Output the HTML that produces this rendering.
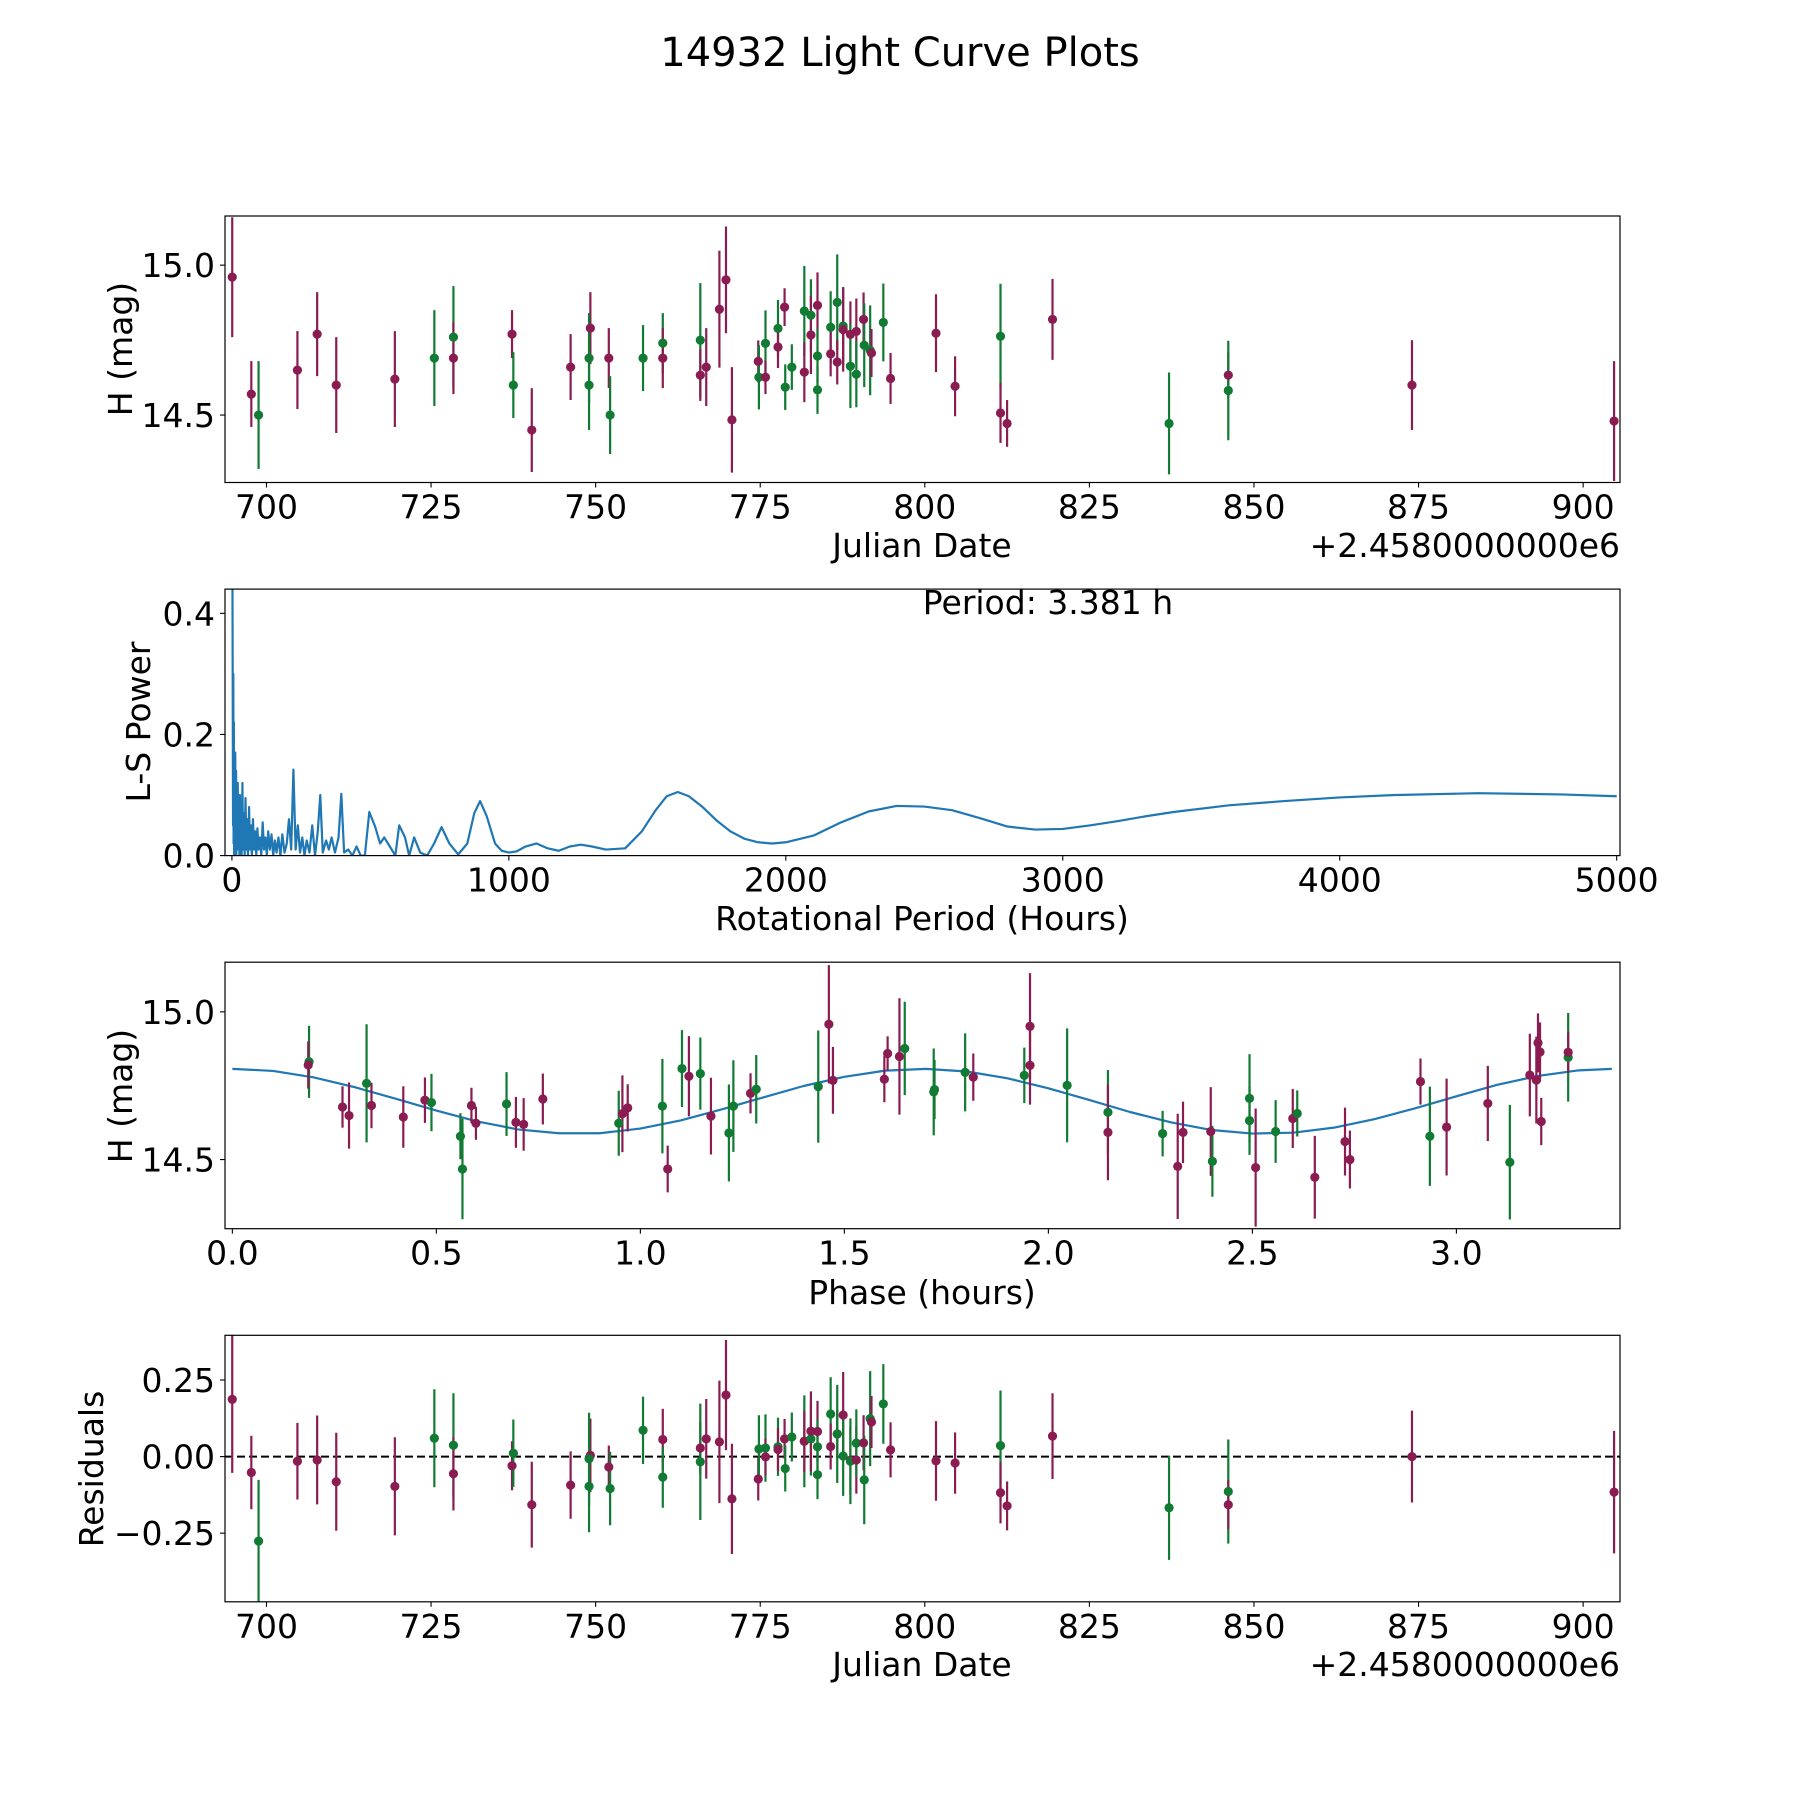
<!DOCTYPE html>
<html><head><meta charset="utf-8"><style>
html,body{margin:0;padding:0;background:#fff;}
svg{display:block;font-family:"DejaVu Sans","Liberation Sans",sans-serif;}
</style></head><body>
<svg id="fig" width="1800" height="1800" viewBox="0 0 1800 1800" xmlns="http://www.w3.org/2000/svg">
<rect x="0" y="0" width="1800" height="1800" fill="#fff"/>
<text x="900" y="66" font-size="40" text-anchor="middle">14932 Light Curve Plots</text>
</svg>
<script>
// ---------- Light curve (panel 1) ----------
const lcDates=[694.8,697.7,698.8,704.7,707.7,710.6,719.5,725.5,728.4,728.4,737.3,737.5,740.3,746.2,749.2,749.0,749.0,752.0,752.2,757.2,760.2,760.2,
765.9,765.9,766.8,768.8,769.8,770.7,774.7,774.8,775.8,775.8,777.7,777.7,778.7,778.8,779.8,781.7,781.7,782.7,782.7,783.7,783.7,783.7,785.7,785.7,786.7,786.7,787.6,787.6,788.7,788.7,789.6,789.6,790.7,790.8,791.7,791.9,793.7,794.8,801.7,804.6,811.5,811.5,812.5,819.4,837.1,846.1,846.1,874.0,904.7];
const lcMags=[14.96,14.57,14.50,14.65,14.77,14.60,14.62,14.69,14.76,14.69,14.77,14.60,14.45,14.66,14.79,14.69,14.60,14.69,14.50,14.69,14.74,14.69,
14.750,14.633,14.660,14.853,14.951,14.484,14.679,14.626,14.739,14.626,14.789,14.727,14.860,14.593,14.660,14.847,14.643,14.833,14.767,14.866,14.697,14.584,14.793,14.704,14.876,14.677,14.797,14.785,14.769,14.663,14.779,14.636,14.819,14.733,14.716,14.707,14.809,14.622,14.773,14.596,14.763,14.507,14.472,14.819,14.472,14.633,14.582,14.60,14.48];
const lcErrs=[0.20,0.11,0.18,0.13,0.14,0.16,0.16,0.16,0.17,0.12,0.08,0.11,0.14,0.11,0.12,0.15,0.15,0.10,0.13,0.11,0.10,0.10,
0.19,0.086,0.13,0.195,0.178,0.176,0.07,0.107,0.11,0.056,0.095,0.07,0.063,0.076,0.076,0.15,0.10,0.12,0.13,0.11,0.09,0.08,0.12,0.075,0.16,0.075,0.13,0.14,0.11,0.14,0.11,0.11,0.09,0.14,0.15,0.08,0.13,0.085,0.13,0.10,0.175,0.10,0.078,0.135,0.17,0.075,0.166,0.15,0.20];
const lcBands=['m','m','g','m','m','m','m','g','g','m','m','g','m','m','m','g','g','m','g','g','g','m',
'g','m','m','m','m','m','m','g','g','m','g','m','m','g','g','g','m','g','m','m','g','g','g','m','g','m','g','m','m','g','m','g','m','g','g','m','g','m','m','m','g','m','m','m','g','m','g','m','m'];

// ---------- Periodogram (panel 2) ----------
const lsPeriods=[2,4,5,6,7,8,9,10,12,13,15,16,18,19,21,23,25,27,29,31,33,35,38,40,43,46,49,52,55,58,62,65,69,72,76,80,84,88,92,96,101,106,111,116,121,126,131,137,143,149,155,161,168,175,182,190,198,206,214,222,230,238,246,254,262,270,280,290,300,310,319,328,340,350,360,372,385,395,405,420,435,450,465,480,496,517,535,550,570,590,604,625,640,658,680,705,730,757,785,817,850,875,896,920,950,974,1000,1028,1060,1100,1140,1180,1220,1260,1300,1350,1420,1480,1530,1570,1610,1650,1700,1750,1800,1850,1900,1950,2000,2100,2200,2300,2400,2500,2600,2700,2800,2900,3000,3100,3200,3300,3400,3600,3800,4000,4200,4500,4800,5000];
const lsPower=[0.44,0.05,0.30,0.02,0.22,0.0,0.17,0.01,0.17,0.02,0.14,0.0,0.11,0.01,0.12,0.01,0.09,0.0,0.10,0.02,0.08,0.0,0.12,0.01,0.07,0.0,0.095,0.01,0.06,0.0,0.08,0.01,0.05,0.0,0.06,0.01,0.04,0.0,0.045,0.01,0.03,0.0,0.055,0.01,0.03,0.0,0.04,0.01,0.035,0.0,0.025,0.005,0.03,0.0,0.035,0.005,0.02,0.06,0.01,0.142,0.01,0.05,0.005,0.03,0.0,0.025,0.005,0.05,0.0,0.04,0.10,0.005,0.025,0.01,0.03,0.005,0.03,0.102,0.005,0.01,0.0,0.015,0.0,0.0,0.072,0.048,0.02,0.03,0.015,0.0,0.05,0.03,0.0,0.03,0.005,0.0,0.02,0.047,0.02,0.002,0.02,0.07,0.09,0.065,0.02,0.008,0.005,0.007,0.015,0.02,0.012,0.008,0.015,0.018,0.015,0.01,0.012,0.04,0.075,0.098,0.105,0.098,0.08,0.058,0.04,0.028,0.022,0.02,0.022,0.033,0.055,0.073,0.082,0.081,0.075,0.062,0.048,0.043,0.044,0.05,0.057,0.065,0.072,0.083,0.09,0.096,0.10,0.103,0.101,0.098];
const lsTickLabels=['0','1000','2000','3000','4000','5000'];
const lsTickValues=[0,1000,2000,3000,4000,5000];
const lsBestPeriodLabel=['Period: 3.381 h'];

// ---------- Phased curve (panel 3) ----------
const phPhases=[0.188,0.186,0.27,0.286,0.329,0.341,0.419,0.472,0.488,0.559,0.564,0.586,0.597,0.672,0.695,0.714,0.761,0.947,0.956,0.969,1.054,1.067,1.102,1.119,1.147,1.173,1.217,1.228,1.27,1.284,1.436,1.462,1.472,1.598,1.606,1.635,1.648,
1.719,1.721,1.796,1.816,1.941,1.955,1.955,2.046,2.146,2.146,2.28,2.317,2.33,2.398,2.402,2.493,2.493,2.508,2.557,2.599,2.61,2.653,2.727,2.739,2.912,2.935,2.976,3.077,3.131,3.18,3.196,3.2,3.205,3.208,3.274,3.274];
const phMags=[14.831,14.82,14.678,14.649,14.758,14.683,14.644,14.701,14.693,14.579,14.468,14.683,14.623,14.688,14.626,14.619,14.705,14.623,14.655,14.675,14.681,14.468,14.808,14.782,14.791,14.647,14.59,14.681,14.724,14.738,14.747,14.958,14.768,14.772,14.859,14.849,14.876,
14.729,14.737,14.795,14.779,14.785,14.951,14.819,14.751,14.66,14.592,14.588,14.477,14.592,14.595,14.494,14.707,14.632,14.473,14.595,14.639,14.656,14.44,14.561,14.5,14.764,14.579,14.61,14.69,14.491,14.786,14.769,14.895,14.864,14.629,14.846,14.863];
const phErrs=[0.122,0.08,0.07,0.112,0.2,0.077,0.104,0.077,0.097,0.078,0.17,0.06,0.056,0.108,0.086,0.089,0.086,0.11,0.13,0.08,0.16,0.079,0.13,0.136,0.122,0.13,0.164,0.155,0.068,0.116,0.19,0.2,0.113,0.078,0.058,0.197,0.158,
0.147,0.1,0.132,0.08,0.094,0.18,0.133,0.193,0.143,0.162,0.077,0.178,0.104,0.15,0.12,0.15,0.116,0.2,0.106,0.1,0.078,0.14,0.115,0.098,0.078,0.168,0.164,0.127,0.194,0.14,0.147,0.1,0.1,0.08,0.15,0.07];
const phBands=['g','m','m','m','g','m','m','m','g','g','g','m','m','g','m','m','m','g','m','m','g','m','g','m','g','m','g','g','m','g','g','m','m','m','m','m','g',
'g','g','g','m','g','m','m','g','g','m','g','m','m','m','g','g','g','m','g','m','g','m','m','m','m','g','m','m','g','m','m','m','m','m','g','m'];
const fitPhases=[0,0.1,0.2,0.3,0.4,0.5,0.6,0.7,0.8,0.9,1.0,1.1,1.2,1.3,1.4,1.5,1.6,1.7,1.8,1.9,2.0,2.1,2.2,2.3,2.4,2.5,2.6,2.7,2.8,2.9,3.0,3.1,3.2,3.3,3.381];
const fitMags=[14.807,14.800,14.778,14.745,14.706,14.666,14.629,14.602,14.589,14.589,14.605,14.633,14.670,14.710,14.749,14.780,14.801,14.807,14.798,14.775,14.741,14.702,14.661,14.626,14.600,14.588,14.591,14.608,14.637,14.674,14.714,14.753,14.783,14.802,14.807];

// ---------- Residuals (panel 4) ----------
const resDates=[694.8,697.7,698.8,704.7,707.7,710.6,719.5,725.5,728.4,728.4,737.3,737.5,740.3,746.2,749.2,749.0,749.0,752.0,752.2,757.2,760.2,760.2,874.0,904.7,
765.9,765.9,766.8,768.8,769.8,770.7,774.7,774.8,775.8,775.8,777.7,777.7,778.7,778.8,779.8,781.7,781.7,782.7,782.7,783.7,783.7,783.7,785.7,785.7,786.7,786.7,787.6,787.6,788.7,788.7,789.6,789.6,790.7,790.8,791.7,791.9,793.7,794.8,801.7,804.6,811.5,811.5,812.5,819.4,837.1,846.1,846.1];
const resValues=[0.187,-0.052,-0.276,-0.015,-0.011,-0.082,-0.097,0.06,0.037,-0.056,-0.03,0.011,-0.157,-0.093,0.004,-0.007,-0.097,-0.034,-0.104,0.086,0.056,-0.067,0.0,-0.116,
0.028,-0.017,0.058,0.048,0.201,-0.138,-0.073,0.025,0.028,-0.001,0.032,0.023,0.058,-0.039,0.064,0.05,0.05,0.058,0.083,0.082,0.032,-0.059,0.139,0.033,0.074,0.074,0.136,0.002,-0.012,-0.015,-0.011,0.044,0.045,-0.076,0.124,0.113,0.172,0.022,-0.014,-0.021,0.036,-0.118,-0.161,0.067,-0.167,-0.114,-0.157];
const resErrs=[0.24,0.12,0.2,0.125,0.145,0.16,0.16,0.16,0.17,0.12,0.08,0.11,0.14,0.11,0.12,0.15,0.15,0.07,0.12,0.11,0.1,0.1,0.15,0.2,
0.085,0.19,0.13,0.2,0.18,0.18,0.07,0.11,0.11,0.06,0.095,0.07,0.065,0.075,0.08,0.15,0.1,0.12,0.13,0.1,0.09,0.08,0.12,0.075,0.08,0.16,0.14,0.13,0.11,0.14,0.11,0.11,0.09,0.145,0.155,0.085,0.13,0.09,0.13,0.1,0.18,0.1,0.08,0.14,0.17,0.17,0.08];
const resBands=['m','m','g','m','m','m','m','g','g','m','m','g','m','m','m','g','g','m','g','g','m','g','m','m',
'm','g','m','m','m','m','m','g','g','m','g','m','m','g','g','g','m','g','m','m','g','g','g','m','m','g','m','g','m','g','m','g','m','g','g','m','g','m','m','m','g','m','m','m','g','g','m'];

const dateTickValues=[700,725,750,775,800,825,850,875,900];
const dateTickLabels=['700','725','750','775','800','825','850','875','900'];
const magTickValues=[14.5,15.0];
const magTickLabels=['14.5','15.0'];
const powTickValues=[0,0.2,0.4];
const powTickLabels=['0.0','0.2','0.4'];
const phaseTickValues=[0,0.5,1,1.5,2,2.5,3];
const phaseTickLabels=['0.0','0.5','1.0','1.5','2.0','2.5','3.0'];
const resTickValues=[0.25,0,-0.25];
const resTickLabels=['0.25','0.00','\u22120.25'];

const COL={m:'#8b1c52',g:'#117a33'};
const FS=33;
const NS='http://www.w3.org/2000/svg';
const svg=document.getElementById('fig');
function mk(tag,attrs,parent,text){const e=document.createElementNS(NS,tag);for(const k in attrs)e.setAttribute(k,attrs[k]);if(text!==undefined)e.textContent=text;(parent||svg).appendChild(e);return e;}
function axis(x0,x1,y0,y1,xmin,xmax,ymin,ymax){return{x0,x1,y0,y1,sx:v=>x0+(v-xmin)/(xmax-xmin)*(x1-x0),sy:v=>y1-(v-ymin)/(ymax-ymin)*(y1-y0)};}
const A1=axis(225,1620,216,482.5,693.7,905.6,14.275,15.164);
const A2=axis(225,1620,589.1,855.6,-25,5012,0,0.44);
const A3=axis(225,1620,962.2,1228.7,-0.018,3.401,14.266,15.168);
const A4=axis(225,1620,1335.3,1601.8,693.7,905.6,-0.474,0.396);

function frame(A,name){
  const g=mk('g',{});
  
  
  const clipId='clip-'+name;
  const cp=mk('clipPath',{id:clipId},g);
  mk('rect',{x:A.x0,y:A.y0,width:A.x1-A.x0,height:A.y1-A.y0},cp);
  const plot=mk('g',{'clip-path':'url(#'+clipId+')'},g);
  
  
  return {g,plot};
}
function border(A,g){
  const r=mk('rect',{x:A.x0,y:A.y0,width:A.x1-A.x0,height:A.y1-A.y0,fill:'none',stroke:'#000','stroke-width':1.2},g);
  
  
}
function xticks(A,g,vals,labels){
  vals.forEach((v,i)=>{const x=A.sx(v);
    const t=mk('line',{x1:x,x2:x,y1:A.y1,y2:A.y1+5,stroke:'#000','stroke-width':1.1},g);
    
    
    const l=mk('text',{x:x,y:A.y1+36,'font-size':FS,'text-anchor':'middle'},g,labels[i]);
    
    
  });
}
function yticks(A,g,vals,labels){
  vals.forEach((v,i)=>{const y=A.sy(v);
    const t=mk('line',{x1:A.x0-5,x2:A.x0,y1:y,y2:y,stroke:'#000','stroke-width':1.1},g);
    
    
    const l=mk('text',{x:A.x0-10,y:y+12,'font-size':FS,'text-anchor':'end'},g,labels[i]);
    
    
  });
}
function label(g,x,y,txt,rot,name){
  const t=mk('text',{x:x,y:y,'font-size':FS,'text-anchor':'middle',transform:rot?'rotate(-90 '+x+' '+y+')':''},g,txt);
  
  
}
function errPoints(A,plot,xs,ys,es,bands,name){
  xs.forEach((xv,i)=>{const x=A.sx(xv);
    const b=mk('line',{x1:x,x2:x,y1:A.sy(ys[i]-es[i]),y2:A.sy(ys[i]+es[i]),stroke:COL[bands[i]],'stroke-width':2.2},plot);
    
    
  });
  xs.forEach((xv,i)=>{
    const c=mk('circle',{cx:A.sx(xv),cy:A.sy(ys[i]),r:4.6,fill:COL[bands[i]]},plot);
    
    
  });
}

// Panel 1
let P=frame(A1,'light-curve-axes');
errPoints(A1,P.plot,lcDates,lcMags,lcErrs,lcBands,'light-curve');
border(A1,P.g);
xticks(A1,P.g,dateTickValues,dateTickLabels);
yticks(A1,P.g,magTickValues,magTickLabels);
label(P.g,922,557,'Julian Date',false,'x-axis-title');
label(P.g,132,349,'H (mag)',true,'y-axis-title');
let off=mk('text',{x:1620,y:557,'font-size':FS,'text-anchor':'end'},P.g,'+2.4580000000e6');



// Panel 2
P=frame(A2,'periodogram-axes');
const lsPts=lsPeriods.map((p,i)=>A2.sx(p).toFixed(2)+','+A2.sy(lsPower[i]).toFixed(2)).join(' ');
const lsLine=mk('polyline',{points:lsPts,fill:'none',stroke:'#1f77b4','stroke-width':2.2,'stroke-linejoin':'round'},P.plot);


border(A2,P.g);
xticks(A2,P.g,lsTickValues,lsTickLabels);
yticks(A2,P.g,powTickValues,powTickLabels);
label(P.g,922,930,'Rotational Period (Hours)',false,'x-axis-title');
label(P.g,150,722,'L-S Power',true,'y-axis-title');
let ann=mk('text',{x:1048,y:614,'font-size':FS,'text-anchor':'middle'},P.g,lsBestPeriodLabel[0]);



// Panel 3
P=frame(A3,'phase-axes');
const fitPts=fitPhases.map((p,i)=>A3.sx(p).toFixed(2)+','+A3.sy(fitMags[i]).toFixed(2)).join(' ');
const fit=mk('polyline',{points:fitPts,fill:'none',stroke:'#1f77b4','stroke-width':2.2,'stroke-linejoin':'round'},P.plot);


errPoints(A3,P.plot,phPhases,phMags,phErrs,phBands,'phased');
border(A3,P.g);
xticks(A3,P.g,phaseTickValues,phaseTickLabels);
yticks(A3,P.g,magTickValues,magTickLabels);
label(P.g,922,1304,'Phase (hours)',false,'x-axis-title');
label(P.g,132,1096,'H (mag)',true,'y-axis-title');

// Panel 4
P=frame(A4,'residuals-axes');
const zero=mk('line',{x1:A4.x0,x2:A4.x1,y1:A4.sy(0),y2:A4.sy(0),stroke:'#000','stroke-width':2,'stroke-dasharray':'8,4'},P.plot);


errPoints(A4,P.plot,resDates,resValues,resErrs,resBands,'residual');
border(A4,P.g);
xticks(A4,P.g,dateTickValues,dateTickLabels);
yticks(A4,P.g,resTickValues,resTickLabels);
label(P.g,922,1676,'Julian Date',false,'x-axis-title');
label(P.g,103,1469,'Residuals',true,'y-axis-title');
off=mk('text',{x:1620,y:1676,'font-size':FS,'text-anchor':'end'},P.g,'+2.4580000000e6');


</script>
</body></html>
